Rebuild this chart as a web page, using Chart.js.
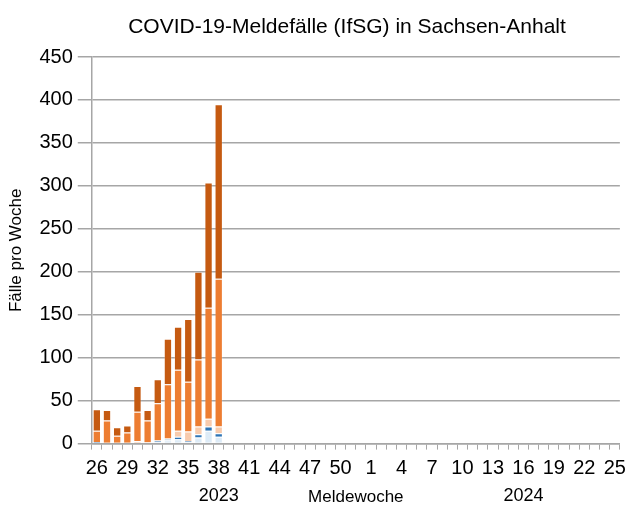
<!DOCTYPE html>
<html lang="de">
<head>
  <meta charset="UTF-8">
  <title>COVID-19-Meldefälle Sachsen-Anhalt</title>
  <script src="https://cdn.jsdelivr.net/npm/chart.js"></script>
  <style>
    html, body { margin: 0; padding: 0; background: #fff; }
    #wrap { width: 633px; height: 508px; }
  </style>
</head>
<body>
  <div id="wrap"><canvas id="covidChart" width="633" height="508"></canvas></div>

  <script>
    // Meldewochen 26/2023 bis 25/2024
    const weeks2023 = [];
    for (let w = 26; w <= 52; w++) weeks2023.push(String(w));
    const weeks2024 = [];
    for (let w = 1; w <= 25; w++) weeks2024.push(String(w));
    const weeks = weeks2023.concat(weeks2024);

    // Werte ab KW 26/2023 (nur bis KW 38 gemeldet)
    const group1 = [1, 0, 0, 0, 1, 1, 2, 4, 5, 2, 7, 15, 8];
    const group2 = [1, 1, 0, 0, 0, 0, 1, 1, 3, 1, 4, 5, 4];
    const group3 = [0, 0, 1, 1, 2, 1, 1, 1, 7, 11, 9, 9, 8];
    const group4 = [13, 26, 8, 12, 34, 25, 43, 63, 71, 58, 78, 129, 172];
    const group5 = [25, 12, 10, 8, 30, 12, 28, 53, 50, 73, 102, 146, 203];

    const seriesNames = ['Gruppe 1', 'Gruppe 2', 'Gruppe 3', 'Gruppe 4', 'Gruppe 5'];
    const seriesColors = ['#ddebf7', '#2e75b6', '#f8cbad', '#ed7d31', '#c55a11'];
    const seriesValues = [group1, group2, group3, group4, group5];

    const chartTitle = 'COVID-19-Meldefälle (IfSG) in Sachsen-Anhalt';
    const yearLabels = [{ text: '2023', at: 12 }, { text: '2024', at: 42 }];

    const font = '"Liberation Sans", Arial, sans-serif';

    // Titel und Jahreszahlen selbst zeichnen
    const extraText = {
      id: 'extraText',
      afterDraw(chart) {
        const c = chart.ctx;
        const x = chart.scales.x;
        c.save();
        c.fillStyle = '#000';
        c.textAlign = 'center';
        c.textBaseline = 'middle';
        c.font = '21px ' + font;
        c.fillText(chartTitle, 347, 27);
        c.font = '18px ' + font;
        yearLabels.forEach(y => {
          c.fillText(y.text, x.getPixelForValue(y.at), 496);
        });
        c.restore();
      }
    };

    const ctx = document.getElementById('covidChart').getContext('2d');
    new Chart(ctx, {
      type: 'bar',
      data: {
        labels: weeks,
        datasets: seriesValues.map((vals, i) => ({
          label: seriesNames[i],
          data: vals,
          backgroundColor: seriesColors[i],
          borderColor: 'rgba(255,255,255,0.2)',
          borderWidth: 1,
          barPercentage: 0.82,
          categoryPercentage: 1.0
        }))
      },
      options: {
        responsive: false,
        animation: false,
        layout: { padding: { left: 6, right: 8, top: 57, bottom: 0 } },
        plugins: {
          legend: { display: false },
          tooltip: { enabled: false },
          title: { display: false }
        },
        scales: {
          x: {
            stacked: true,
            offset: true,
            grid: {
              offset: true,
              drawOnChartArea: false,
              color: '#a6a6a6',
              tickLength: 6
            },
            border: { color: '#a6a6a6', width: 1.5 },
            ticks: {
              autoSkip: false,
              maxRotation: 0,
              color: '#000',
              padding: 7,
              font: { family: font, size: 20 },
              callback: function (value, index) {
                return index % 3 === 0 ? this.getLabelForValue(value) : '';
              }
            },
            title: {
              display: true,
              text: 'Meldewoche',
              color: '#000',
              font: { family: font, size: 17 },
              padding: { top: 0, bottom: 0 }
            }
          },
          y: {
            stacked: true,
            min: 0,
            max: 450,
            ticks: {
              stepSize: 50,
              color: '#000',
              padding: 5,
              font: { family: font, size: 20 }
            },
            grid: {
              color: '#a6a6a6',
              lineWidth: 1.5,
              tickLength: 14
            },
            border: { color: '#a6a6a6', width: 1.5 },
            title: {
              display: true,
              text: 'Fälle pro Woche',
              color: '#000',
              font: { family: font, size: 17 },
              padding: { top: 0, bottom: 8 }
            }
          }
        }
      },
      plugins: [extraText]
    });
  </script>
</body>
</html>
